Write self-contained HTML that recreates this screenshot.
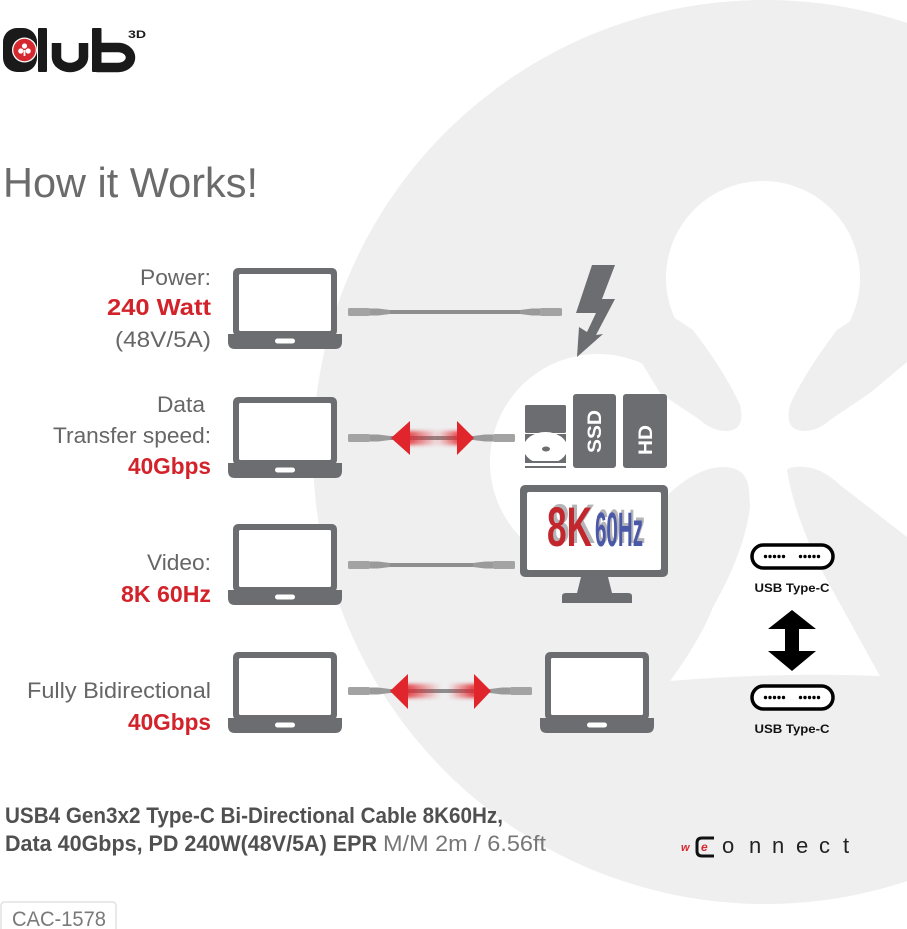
<!DOCTYPE html>
<html><head><meta charset="utf-8">
<style>
html,body{margin:0;padding:0;background:#fff;}
svg{display:block;}
text{font-family:"Liberation Sans",Arial,sans-serif;}
</style></head><body>
<svg width="907" height="929" viewBox="0 0 907 929" xmlns="http://www.w3.org/2000/svg">
<defs>
<filter id="bl" x="-50%" y="-100%" width="200%" height="300%"><feGaussianBlur stdDeviation="1.8"/></filter>
<linearGradient id="fadeR" x1="0" x2="1" y1="0" y2="0"><stop offset="0" stop-color="#e0262c" stop-opacity="0.95"/><stop offset="1" stop-color="#e0262c" stop-opacity="0"/></linearGradient>
<linearGradient id="fadeL" x1="1" x2="0" y1="0" y2="0"><stop offset="0" stop-color="#e0262c" stop-opacity="0.95"/><stop offset="1" stop-color="#e0262c" stop-opacity="0"/></linearGradient>
<g id="lap">
  <rect x="0" y="0" width="104" height="68" rx="5" fill="#6c6d70"/>
  <rect x="6" y="6" width="92" height="57" rx="1.5" fill="#fff"/>
  <path d="M-5,66 H109 V74 Q109,81 102,81 H2 Q-5,81 -5,74 Z" fill="#6c6d70"/>
  <rect x="42" y="70.5" width="20" height="5" rx="2.5" fill="#fff"/>
</g>
<g id="pill">
  <rect x="0" y="0" width="81" height="23" rx="11.5" fill="#fff" stroke="#000" stroke-width="3.5"/>
  <g fill="#000">
    <circle cx="13.5" cy="11.5" r="1.7"/><circle cx="18" cy="11.5" r="1.7"/><circle cx="22.5" cy="11.5" r="1.7"/><circle cx="27" cy="11.5" r="1.7"/><circle cx="31.5" cy="11.5" r="1.7"/>
    <circle cx="48.5" cy="11.5" r="1.7"/><circle cx="53" cy="11.5" r="1.7"/><circle cx="57.5" cy="11.5" r="1.7"/><circle cx="62" cy="11.5" r="1.7"/><circle cx="66.5" cy="11.5" r="1.7"/>
  </g>
</g>
</defs>

<rect width="907" height="929" fill="#fff"/>
<circle cx="765" cy="452" r="452" fill="#efeff0"/>

<!-- clover white shape -->
<g fill="#fff">
  <circle cx="763" cy="278" r="97"/>
  <circle cx="598" cy="462" r="108"/>
  <circle cx="932" cy="455" r="106"/>
  <polygon points="700,330 830,330 900,420 900,500 810,540 720,540 640,500 640,420"/>
  <path d="M748,470 L787,470 Q795,520 827,580 Q860,640 880,676 Q775,672 670,681 Q700,640 713,607 Q745,550 750,507 Z"/>
</g>
<g fill="#efeff0">
  <path d="M655,305 L693,330 Q725,372 740,405 Q746,430 727,431 Q712,431 700,420 L660,393 L640,360 Z"/>
  <path d="M875,305 L837,330 Q805,372 790,405 Q784,430 803,431 Q818,431 830,420 L870,393 L907,362 L907,300 Z"/>
  <path d="M600,560 L640,523 L673,490 Q700,467 723,467 Q747,467 749,490 L750,507 Q745,550 713,607 Q700,640 670,681 L600,700 Z"/>
  <path d="M787,470 Q790,466 805,467 Q822,468 840,485 L907,537 L907,700 L880,676 Q860,640 827,580 Q795,520 787,470 Z"/>
</g>

<!-- Logo -->
<g>
  <rect x="3" y="28" width="34" height="44" rx="14" fill="#1a1a1a"/>
  <circle cx="24.5" cy="50" r="12.5" fill="#fff"/>
  <circle cx="24.5" cy="50" r="11.2" fill="#d42a2f"/>
  <g fill="#fff">
    <circle cx="24.5" cy="46" r="2.6"/><circle cx="20.8" cy="51" r="2.6"/><circle cx="28.2" cy="51" r="2.6"/>
    <rect x="23.6" y="50" width="1.8" height="6"/>
  </g>
  <rect x="38" y="28" width="9" height="44" rx="1" fill="#1a1a1a"/>
  <path d="M56.5,43 V57 A13.5,10.5 0 0 0 83.5,57 V43" fill="none" stroke="#1a1a1a" stroke-width="9.5"/>
  <rect x="92" y="28" width="9.5" height="44" rx="1" fill="#1a1a1a"/>
  <path d="M96.5,47.5 H118 A12.5,10 0 0 1 130.5,57.5 A12.5,10 0 0 1 118,67.5 H96.5" fill="none" stroke="#1a1a1a" stroke-width="9.5"/>
  <text x="128" y="38" font-size="11" font-weight="bold" fill="#1a1a1a" textLength="18" lengthAdjust="spacingAndGlyphs">3D</text>
</g>

<text x="3" y="197" font-size="42" fill="#6b6b6b" textLength="255" lengthAdjust="spacingAndGlyphs">How it Works!</text>

<!-- Left labels -->
<g font-size="22" fill="#666" text-anchor="end">
  <text x="211" y="285" textLength="71" lengthAdjust="spacingAndGlyphs">Power:</text>
  <text x="211" y="315" font-weight="bold" fill="#d2232a" font-size="23" textLength="104" lengthAdjust="spacingAndGlyphs">240 Watt</text>
  <text x="211" y="347" textLength="96" lengthAdjust="spacingAndGlyphs">(48V/5A)</text>
  <text x="205" y="412" textLength="48" lengthAdjust="spacingAndGlyphs">Data</text>
  <text x="211" y="443" textLength="158" lengthAdjust="spacingAndGlyphs">Transfer speed:</text>
  <text x="211" y="474" font-weight="bold" fill="#d2232a" font-size="23" textLength="83" lengthAdjust="spacingAndGlyphs">40Gbps</text>
  <text x="211" y="570" textLength="64" lengthAdjust="spacingAndGlyphs">Video:</text>
  <text x="211" y="602" font-weight="bold" fill="#d2232a" font-size="23" textLength="90" lengthAdjust="spacingAndGlyphs">8K 60Hz</text>
  <text x="211" y="698" textLength="184" lengthAdjust="spacingAndGlyphs">Fully Bidirectional</text>
  <text x="211" y="730" font-weight="bold" fill="#d2232a" font-size="23" textLength="83" lengthAdjust="spacingAndGlyphs">40Gbps</text>
</g>

<!-- Laptops -->
<use href="#lap" x="233" y="268"/>
<use href="#lap" x="233" y="397"/>
<use href="#lap" x="233" y="524"/>
<use href="#lap" x="233" y="652"/>
<use href="#lap" x="545" y="652"/>

<!-- Cables -->
<g>
  <rect x="348" y="308" width="22" height="8" rx="1.5" fill="#a3a3a3"/>
  <polygon points="370,308.5 378,308.5 390,310 390,314 378,315.5 370,315.5" fill="#9a9a9a"/>
  <rect x="390" y="310" width="130" height="4" fill="#8e8e8e"/>
  <polygon points="520,310 532,308.5 540,308.5 540,315.5 532,315.5 520,314" fill="#9a9a9a"/>
  <rect x="540" y="308" width="22" height="8" rx="1.5" fill="#a3a3a3"/>

  <rect x="348" y="434" width="22" height="8" rx="1.5" fill="#a3a3a3"/>
  <polygon points="370,434.5 378,434.5 390,436 390,440 378,441.5 370,441.5" fill="#9a9a9a"/>
  <rect x="390" y="436" width="83" height="4" fill="#8e8e8e"/>
  <polygon points="473,436 485,434.5 493,434.5 493,441.5 485,441.5 473,440" fill="#9a9a9a"/>
  <rect x="493" y="434" width="22" height="8" rx="1.5" fill="#a3a3a3"/>

  <rect x="348" y="561" width="22" height="8" rx="1.5" fill="#a3a3a3"/>
  <polygon points="370,561.5 378,561.5 390,563 390,567 378,568.5 370,568.5" fill="#9a9a9a"/>
  <rect x="390" y="563" width="83" height="4" fill="#8e8e8e"/>
  <polygon points="473,563 485,561.5 493,561.5 493,568.5 485,568.5 473,567" fill="#9a9a9a"/>
  <rect x="493" y="561" width="22" height="8" rx="1.5" fill="#a3a3a3"/>

  <rect x="348" y="687" width="22" height="8" rx="1.5" fill="#a3a3a3"/>
  <polygon points="370,687.5 378,687.5 390,689 390,693 378,694.5 370,694.5" fill="#9a9a9a"/>
  <rect x="390" y="689" width="100" height="4" fill="#8e8e8e"/>
  <polygon points="490,689 502,687.5 510,687.5 510,694.5 502,694.5 490,693" fill="#9a9a9a"/>
  <rect x="510" y="687" width="22" height="8" rx="1.5" fill="#a3a3a3"/>
</g>

<!-- Red arrows -->
<g>
  <rect x="404" y="431" width="36" height="14" fill="url(#fadeR)" filter="url(#bl)"/>
  <polygon points="391,438 410,421 410,455" fill="#e0262c"/>
  <rect x="436" y="431" width="26" height="14" fill="url(#fadeL)" filter="url(#bl)"/>
  <polygon points="474,438 457,421 457,455" fill="#e0262c"/>

  <rect x="403" y="684" width="38" height="14" fill="url(#fadeR)" filter="url(#bl)"/>
  <polygon points="390,691 408,674 408,709" fill="#e0262c"/>
  <rect x="448" y="684" width="28" height="14" fill="url(#fadeL)" filter="url(#bl)"/>
  <polygon points="491,691 474,674 474,709" fill="#e0262c"/>
</g>

<!-- Lightning -->
<polygon points="592,265 615,265 602,299 615,299 596,335 603,334 577,357 579,327 587,332 596,313 576,313" fill="#6c6d70"/>

<!-- Storage -->
<g>
  <rect x="525" y="405" width="41" height="28" rx="1.5" fill="#6c6d70"/>
  <rect x="525" y="434" width="41" height="27" fill="#6c6d70"/>
  <ellipse cx="545.5" cy="448" rx="22" ry="16" fill="#fff"/>
  <ellipse cx="546" cy="449" rx="4" ry="2.5" fill="#6c6d70"/>
  <rect x="525" y="461" width="41" height="2" fill="#6c6d70"/>
  <rect x="525" y="466" width="41" height="2" fill="#6c6d70"/>
  <rect x="573" y="394" width="43" height="74" rx="3" fill="#6c6d70"/>
  <rect x="623" y="394" width="44" height="74" rx="3" fill="#6c6d70"/>
  <text transform="translate(601,453) rotate(-90)" font-size="19" font-weight="bold" fill="#fff" textLength="43" lengthAdjust="spacingAndGlyphs">SSD</text>
  <text transform="translate(652,455) rotate(-90)" font-size="19" font-weight="bold" fill="#fff" textLength="30" lengthAdjust="spacingAndGlyphs">HD</text>
</g>

<!-- Monitor -->
<g>
  <rect x="520" y="485" width="148" height="92" rx="5" fill="#6c6d70"/>
  <rect x="527" y="492" width="134" height="78" rx="2" fill="#fff"/>
  <polygon points="581,577 608,577 612,593 577,593" fill="#6c6d70"/>
  <path d="M562,603 V596 Q562,593 566,593 H628 Q632,593 632,596 V603 Z" fill="#6c6d70"/>
  <g font-family="'Liberation Sans Narrow','Liberation Sans',sans-serif" font-weight="bold">
    <text x="550" y="543" font-size="56" fill="#b5b5b8" textLength="45" lengthAdjust="spacingAndGlyphs">8K</text>
    <text x="597" y="543" font-size="48" fill="#b5b5b8" textLength="48" lengthAdjust="spacingAndGlyphs">60Hz</text>
    <text x="547" y="546" font-size="56" fill="#c1272d" textLength="45" lengthAdjust="spacingAndGlyphs">8K</text>
    <text x="595" y="546" font-size="48" fill="#4a58a8" textLength="48" lengthAdjust="spacingAndGlyphs">60Hz</text>
  </g>
</g>

<!-- USB Type-C -->
<use href="#pill" x="752" y="545"/>
<text x="792" y="592" font-size="12" font-weight="bold" fill="#111" text-anchor="middle" textLength="75" lengthAdjust="spacingAndGlyphs">USB Type-C</text>
<polygon points="792,610 816,629 799,629 799,651 816,651 792,671 768,651 785,651 785,629 768,629" fill="#000"/>
<use href="#pill" x="752" y="686"/>
<text x="792" y="733" font-size="12" font-weight="bold" fill="#111" text-anchor="middle" textLength="75" lengthAdjust="spacingAndGlyphs">USB Type-C</text>

<!-- Bottom text -->
<text x="5" y="823" font-size="22" font-weight="bold" fill="#505050" textLength="498" lengthAdjust="spacingAndGlyphs">USB4 Gen3x2 Type-C Bi-Directional Cable 8K60Hz,</text>
<text x="5" y="851" font-size="22" font-weight="bold" fill="#505050" textLength="372" lengthAdjust="spacingAndGlyphs">Data 40Gbps, PD 240W(48V/5A) EPR</text>
<text x="383" y="851" font-size="22" fill="#777" textLength="163" lengthAdjust="spacingAndGlyphs">M/M 2m / 6.56ft</text>

<!-- CAC box -->
<path d="M1,929 V906 Q1,902 5,902 H112 Q116,902 116,906 V929" fill="#fff" stroke="#e2e2e2" stroke-width="1.5"/>
<text x="12" y="926" font-size="21" fill="#7a7a7a" textLength="94" lengthAdjust="spacingAndGlyphs">CAC-1578</text>

<!-- weConnect -->
<text x="681" y="851" font-size="11" font-weight="bold" font-style="italic" fill="#d42a2f">w</text>
<path d="M714,838 H702 Q697,838 697,843 V851 Q697,856 702,856 H714" fill="none" stroke="#111" stroke-width="3"/>
<text x="701" y="851" font-size="12" font-weight="bold" font-style="italic" fill="#d42a2f">e</text>
<text y="853" font-size="22" fill="#222" x="722 749 772 796 819 843">onnect</text>
</svg>
</body></html>
